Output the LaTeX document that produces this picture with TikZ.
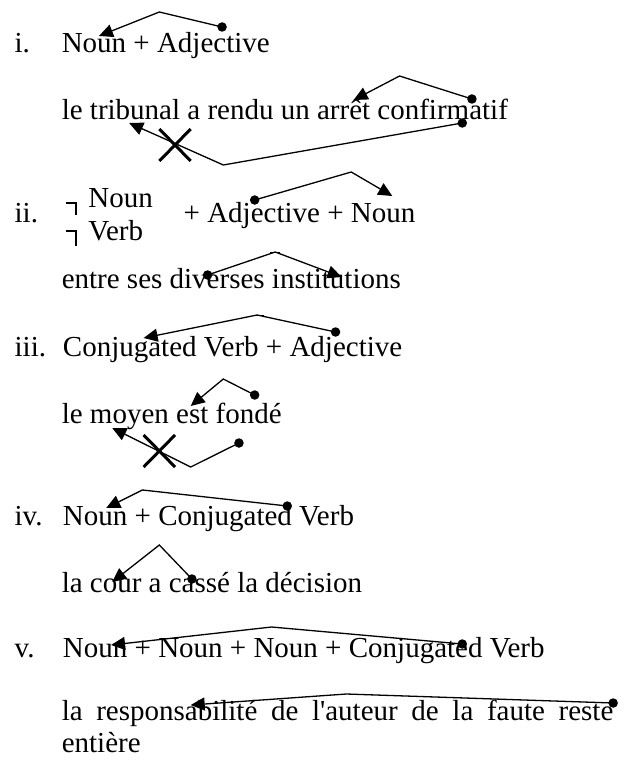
\documentclass[tikz,border=0pt]{standalone}
\usepackage{fontspec}
\setmainfont{Liberation Serif}[Ligatures=TeXOff]
\usetikzlibrary{arrows.meta,calc}
\begin{document}
\begin{tikzpicture}[x=1.207pt,y=-1pt,
  txt/.style={anchor=base west,inner sep=0pt,font=\fontsize{29}{33}\selectfont},
  link/.style={line width=1.3pt,-{Triangle[length=14pt,width=13pt]}},
  dotn/.style={circle,fill=black,inner sep=0pt,minimum size=9.5pt},
  crossx/.style={line width=3pt},
  negmark/.style={line width=1.6pt}]
\useasboundingbox (0,0) rectangle (522.8,762);
% texts
\node[txt] (n1) at (12,53) {i.};
\node[txt] (t1) at (51,53) {Noun + Adjective};
\node[txt] (s1) at (51,120) {le tribunal a rendu un arrêt confirmatif};
\node[txt] (n2) at (12,222) {ii.};
\node[txt] (t2a) at (73,207) {Noun};
\node[txt] (t2b) at (73,240) {Verb};
\node[txt] (t2c) at (152,222) {+ Adjective + Noun};
\node[txt] (s2) at (51,288) {entre ses diverses institutions};
\node[txt] (n3) at (12,356) {iii.};
\node[txt] (t3) at (52,356) {Conjugated Verb + Adjective};
\node[txt] (s3) at (51,423) {le moyen est fondé};
\node[txt] (n4) at (12,525) {iv.};
\node[txt] (t4) at (52,525) {Noun + Conjugated Verb};
\node[txt] (s4) at (51,592) {la cour a cassé la décision};
\node[txt] (n5) at (12,657) {v.};
\node[txt] (t5) at (52,657) {Noun + Noun + Noun + Conjugated Verb};
\node[txt] (s5) at (51,720) {\makebox[551.6pt][s]{la responsabilité de l'auteur de la faute reste}};
\node[txt] (s5b) at (51,752) {entière};
% negation marks
\coordinate (m1a) at (55,203); \coordinate (m1b) at (63,203); \coordinate (m1c) at (63,215);
\coordinate (m2a) at (55,231); \coordinate (m2b) at (63,231); \coordinate (m2c) at (63,246);
\draw[negmark] (m1a) -- (m1b) -- (m1c);
\draw[negmark] (m2a) -- (m2b) -- (m2c);
% arrow 1
\node[dotn] (d1) at (184,27) {}; \coordinate (a1) at (132,12); \coordinate (e1) at (82,36);
\draw[link] (d1.center) -- (a1) -- (e1);
% arrow 2
\node[dotn] (d2) at (391,99) {}; \coordinate (a2) at (331,76); \coordinate (e2) at (293,100);
\draw[link] (d2.center) -- (a2) -- (e2);
% arrow 3 (crossed)
\node[dotn] (d3) at (383,123) {}; \coordinate (a3) at (185,165); \coordinate (e3) at (107,123);
\draw[link] (d3.center) -- (a3) -- (e3);
\coordinate (x3) at (145,145);
\draw[crossx] ($(x3)+(-13,16)$) -- ($(x3)+(13,-16)$);
\draw[crossx] ($(x3)+(-13,-16)$) -- ($(x3)+(13,16)$);
% arrow 4
\node[dotn] (d4) at (211,200) {}; \coordinate (a4) at (291,172); \coordinate (e4) at (325,196);
\draw[link] (d4.center) -- (a4) -- (e4);
% arrow 5
\node[dotn] (d5) at (172,275) {}; \coordinate (a5) at (228,252); \coordinate (e5) at (283,277);
\draw[link] (d5.center) -- (a5) -- (e5);
\coordinate (k5a) at (224,252); \coordinate (k5b) at (232,252);
\draw[line width=1pt] (k5a) -- (k5b);
% arrow 6
\node[dotn] (d6) at (278,332) {}; \coordinate (a6) at (213,315); \coordinate (e6) at (119,338);
\draw[link] (d6.center) -- (a6) -- (e6);
\coordinate (k6a) at (211,315); \coordinate (k6b) at (219,315);
\draw[line width=1pt] (k6a) -- (k6b);
% arrow 7
\node[dotn] (d7) at (211,395) {}; \coordinate (a7) at (185,379); \coordinate (e7) at (158,406);
\draw[link] (d7.center) -- (a7) -- (e7);
% arrow 8 (crossed)
\node[dotn] (d8) at (198,443) {}; \coordinate (a8) at (158,467); \coordinate (e8) at (93,428);
\draw[link] (d8.center) -- (a8) -- (e8);
\coordinate (x8) at (132,451);
\draw[crossx] ($(x8)+(-13,16)$) -- ($(x8)+(13,-16)$);
\draw[crossx] ($(x8)+(-13,-16)$) -- ($(x8)+(13,16)$);
% arrow 9
\node[dotn] (d9) at (238,506) {}; \coordinate (a9) at (118,490); \coordinate (e9) at (88,508);
\draw[link] (d9.center) -- (a9) -- (e9);
% arrow 10
\node[dotn] (d10) at (159,579) {}; \coordinate (a10) at (132,545); \coordinate (e10) at (93,582);
\draw[link] (d10.center) -- (a10) -- (e10);
% arrow 11
\node[dotn] (d11) at (383,644) {}; \coordinate (a11) at (225,627); \coordinate (e11) at (92,645);
\draw[link] (d11.center) -- (a11) -- (e11);
% arrow 12
\node[dotn] (d12) at (508,703) {}; \coordinate (a12) at (287,694); \coordinate (e12) at (158,705);
\draw[link] (d12.center) -- (a12) -- (e12);
\end{tikzpicture}
\end{document}
